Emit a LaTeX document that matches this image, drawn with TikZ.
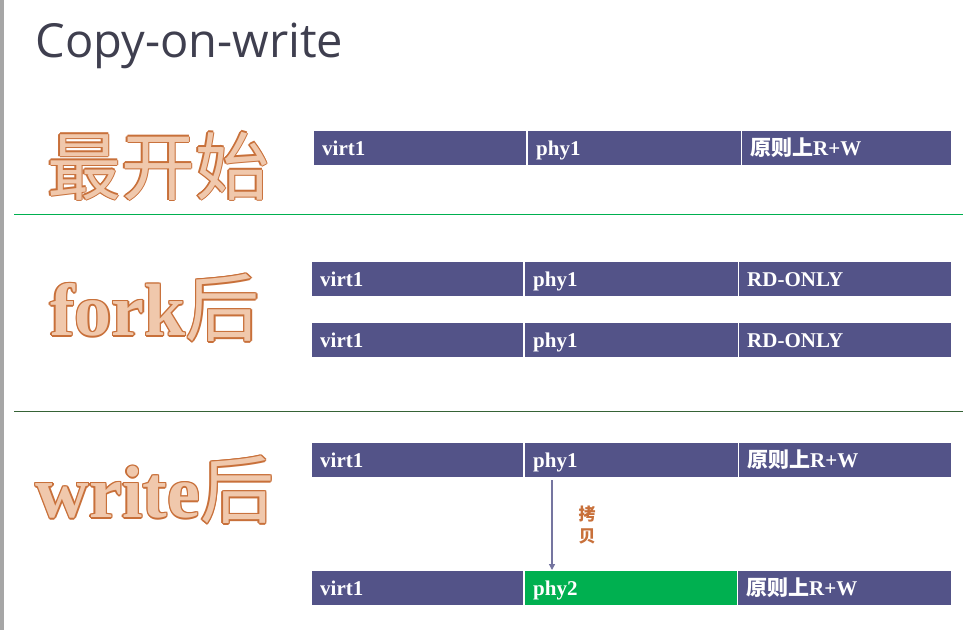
\documentclass[tikz,border=0pt]{standalone}
\usepackage{fontspec}
\setmainfont{Liberation Serif}
\newfontfamily\cjk{Noto Sans CJK SC}
\newfontfamily\titlefont{Open Sans}
\usetikzlibrary{arrows.meta}
\definecolor{bar}{HTML}{535388}
\definecolor{grn}{HTML}{00B050}
\definecolor{org}{HTML}{C8703A}
\definecolor{orgfill}{HTML}{F0C8AC}
\definecolor{ttl}{HTML}{3F3F4F}
\tikzset{
  cell/.style={fill=bar, draw=none, minimum height=34pt, anchor=north west, inner sep=0pt, text=white, font=\bfseries\fontsize{21}{21}\selectfont, text depth=0pt, align=left, text height=14pt, inner xsep=8pt},
  big/.style={text=orgfill, font=\cjk\fontsize{74}{74}\selectfont},
  bigo/.style={text=org, font=\cjk\fontsize{74}{74}\selectfont},
  sep/.style={line width=1pt}
}
\newcommand{\outlined}[3]{%
  \foreach \dx/\dy in {-1.3/0,1.3/0,0/-1.3,0/1.3,-0.9/-0.9,0.9/0.9,-0.9/0.9,0.9/-0.9}
    {\node[bigo] at ($(#2)+(\dx,\dy)$) {#3};}
  \node[big] (#1) at (#2) {#3};}
\usetikzlibrary{calc}
\begin{document}
\begin{tikzpicture}[x=1pt,y=-1pt]
\useasboundingbox (0,0) rectangle (963,630);
\fill[gray!70] (0,0) rectangle (4,630);
\node[anchor=base west, text=ttl, font=\titlefont\fontsize{47}{47}\selectfont] (title) at (32,57) {Copy-on-write};
\draw[sep, grn] (14,214) coordinate (l1a) -- (963,214) coordinate (l1b);
\draw[sep, gray!70!green!60!black] (14,411) coordinate (l2a) -- (963,411) coordinate (l2b);
\outlined{t1}{158,166}{最开始}
\outlined{t2}{155,308}{\textrm{\bfseries fork}后}
\outlined{t3}{155,490}{\textrm{\bfseries write}后}
\newcommand{\cellrow}[8]{%
  \node[cell, minimum width=#3-#2-1pt, text width=#3-#2-17pt] (#1a) at (#2,#8) {#5};
  \node[cell, minimum width=#4-#3-1pt, text width=#4-#3-17pt] (#1b) at (#3+1,#8) {#6};
  \node[cell, minimum width=951-#4-1pt, text width=951-#4-17pt] (#1c) at (#4+1,#8) {#7};}
\cellrow{r1}{314}{527}{741}{virt1}{phy1}{{\cjk 原则上}R+W}{131}
\cellrow{r2}{312}{524}{738}{virt1}{phy1}{RD-ONLY}{262}
\cellrow{r3}{312}{524}{738}{virt1}{phy1}{RD-ONLY}{323}
\cellrow{r4}{312}{524}{738}{virt1}{phy1}{{\cjk 原则上}R+W}{443}
\cellrow{r5}{312}{524}{737}{virt1}{}{{\cjk 原则上}R+W}{571}
\node[cell, fill=grn, minimum width=212pt, text width=196pt] (r5g) at (525,571) {phy2};
\draw[bar!80, line width=1.2pt, -{Triangle[length=6pt,width=6pt]}] (552,480) coordinate (s) -- (552,570) coordinate (e);
\node[text=org, font=\cjk\bfseries\fontsize{17}{22}\selectfont, align=center] (copy) at (587,525) {拷\\贝};
\end{tikzpicture}
\end{document}
